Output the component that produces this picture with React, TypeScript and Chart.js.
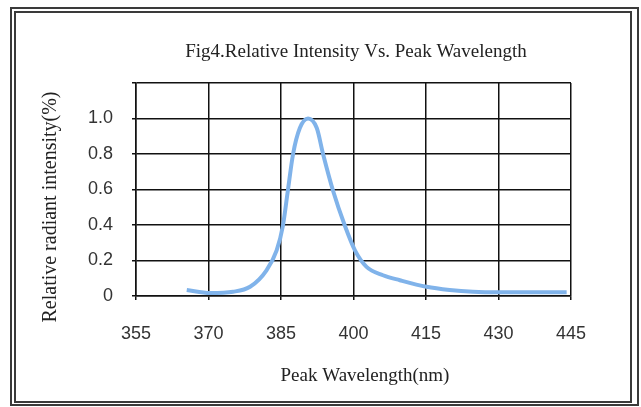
import React, { useEffect, useRef } from "react";
import { Chart, registerables } from "chart.js";

Chart.register(...registerables);

const chartTitle = "Fig4.Relative Intensity Vs. Peak Wavelength";
const xTitle = "Peak Wavelength(nm)";
const yTitle = "Relative radiant intensity(%)";

const wavelengths = [365.5, 370.3, 375.1, 378.6, 382.0, 384.1, 385.4, 386.4, 387.5, 388.9, 390.6, 392.4, 393.7, 395.8, 398.2, 400.3, 402.7, 406.1, 409.6, 415.1, 419.9, 424.7, 430.3, 437.0, 444.1];
const intensity = [0.034, 0.017, 0.024, 0.052, 0.145, 0.257, 0.397, 0.59, 0.8, 0.946, 1.0, 0.946, 0.8, 0.59, 0.397, 0.257, 0.164, 0.117, 0.089, 0.052, 0.034, 0.024, 0.021, 0.021, 0.021];

const xTicks = [355, 370, 385, 400, 415, 430, 445];
const yTicks = [0, 0.2, 0.4, 0.6, 0.8, 1.0, 1.2];

const SERIF = "'Liberation Serif', 'Times New Roman', serif";
const SANS = "'Liberation Sans', Arial, sans-serif";

const framePlugin = {
  id: "frameAndTitles",
  beforeDraw(chart: any) {
    const ctx = chart.ctx;
    ctx.save();
    ctx.fillStyle = "#ffffff";
    ctx.fillRect(0, 0, chart.width, chart.height);
    ctx.strokeStyle = "#3a3a3a";
    ctx.lineWidth = 2;
    ctx.strokeRect(11, 8, 627, 397);
    ctx.strokeRect(15, 12, 616, 390);
    ctx.restore();
  },
  afterDraw(chart: any) {
    const ctx = chart.ctx;
    ctx.save();
    ctx.fillStyle = "#222222";
    ctx.textAlign = "center";
    ctx.textBaseline = "middle";
    ctx.font = `19px ${SERIF}`;
    ctx.fillText(chartTitle, 356, 52);
    ctx.fillText(xTitle, 365, 376);
    ctx.font = `20px ${SERIF}`;
    ctx.translate(51, 207);
    ctx.rotate(-Math.PI / 2);
    ctx.fillText(yTitle, 0, 0);
    ctx.restore();
  },
};

export default function App() {
  const canvasRef = useRef<HTMLCanvasElement | null>(null);

  useEffect(() => {
    if (!canvasRef.current) return;
    const padLeft = 20;
    const padBottom = 20;
    const chart = new Chart(canvasRef.current, {
      type: "line",
      data: {
        datasets: [
          {
            data: wavelengths.map((w, i) => ({ x: w, y: intensity[i] })),
            borderColor: "#80b3ea",
            borderWidth: 4,
            pointRadius: 0,
            fill: false,
            cubicInterpolationMode: "monotone",
          },
        ],
      },
      options: {
        animation: false,
        responsive: false,
        maintainAspectRatio: false,
        layout: { padding: { left: padLeft, right: 70, top: 83, bottom: padBottom } },
        plugins: {
          legend: { display: false },
          title: { display: false },
          tooltip: { enabled: false },
        },
        scales: {
          x: {
            type: "linear",
            min: xTicks[0],
            max: xTicks[xTicks.length - 1],
            afterBuildTicks: (scale: any) => {
              scale.ticks = xTicks.map((v) => ({ value: v }));
            },
            afterFit: (scale: any) => {
              scale.height = 407 - 296 - padBottom;
            },
            grid: { color: "#111", lineWidth: 1.5, tickLength: 4, drawTicks: true },
            border: { display: true, color: "#111", width: 1.5 },
            ticks: {
              color: "#333",
              font: { family: SANS, size: 18 },
              padding: 23,
              maxRotation: 0,
              autoSkip: false,
            },
          },
          y: {
            type: "linear",
            min: yTicks[0],
            max: yTicks[yTicks.length - 1],
            afterBuildTicks: (scale: any) => {
              scale.ticks = yTicks.map((v) => ({ value: v }));
            },
            afterFit: (scale: any) => {
              scale.width = 136 - padLeft;
            },
            grid: { color: "#111", lineWidth: 1.5, tickLength: 4, drawTicks: true },
            border: { display: true, color: "#111", width: 1.5 },
            ticks: {
              color: "#333",
              font: { family: SANS, size: 18 },
              padding: 19,
              autoSkip: false,
              callback: (v: any) => {
                const n = Number(v);
                if (n > 1.05) return "";
                if (n === 0) return "0";
                return n.toFixed(1);
              },
            },
          },
        },
      },
      plugins: [framePlugin],
    });
    return () => chart.destroy();
  }, []);

  return (
    <div style={{ position: "fixed", left: 0, top: 0, width: 641, height: 407, background: "#fff" }}>
      <canvas ref={canvasRef} width={641} height={407} style={{ width: 641, height: 407, display: "block" }} />
    </div>
  );
}
